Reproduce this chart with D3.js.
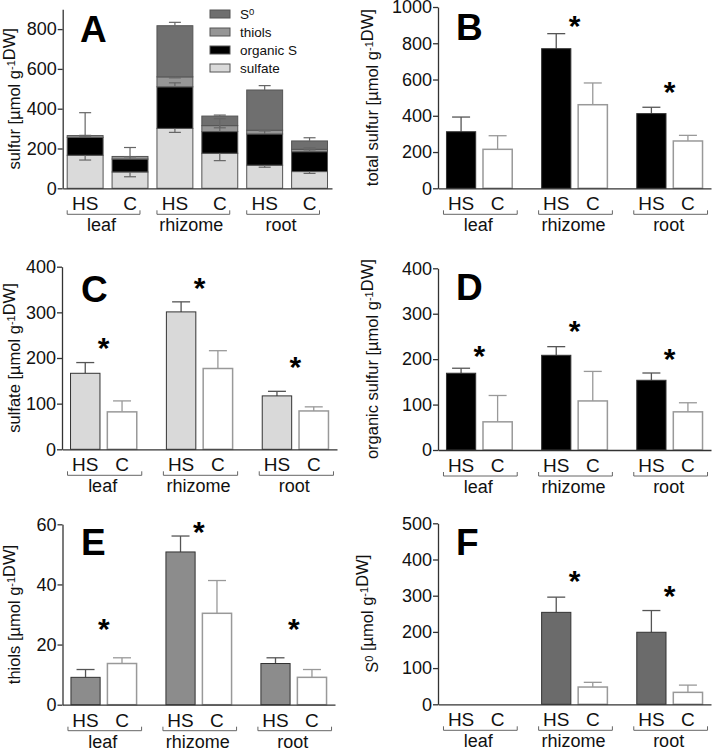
<!DOCTYPE html>
<html>
<head>
<meta charset="utf-8">
<script src="https://cdn.jsdelivr.net/npm/d3@7"></script>
<style>
  body { margin: 0; background: #fff; }
  svg { display: block; font-family: "Liberation Sans", Arial, sans-serif; }
  .axis path, .axis line { stroke: #333; stroke-width: 1.3; }
  .axis text { font-size: 18px; fill: #111; font-family: "Liberation Sans", Arial, sans-serif; }
</style>
</head>
<body>
<svg id="fig" width="714" height="750"></svg>
<script>
// categories
const groups = ["leaf", "rhizome", "root"];
const treatments = ["HS", "C"];
const stackBars = ["leaf HS", "leaf C", "rhizome HS", "rhizome C", "root HS", "root C"];

// panel A: stacked sulfur pools (µmol/g DW)
const sulfateA = [166, 82, 301, 176, 116, 84];
const organicA = [90, 65, 209, 109, 157, 100];
const thiolsA = [9, 13, 50, 30, 19, 12];
const s0A = [0, 0, 257, 48, 202, 42];
const sulfateErrA = [24, 24, 20, 37, 10, 9];
const organicErrA = [10, 58, 20, 65, 16, 20];
const thiolsErrA = [3, 2, 5, 11, 2, 3];
const s0ErrA = [115, 0, 17, 5, 22, 16];

// panel B: total sulfur
const totalHS = [312, 770, 412], totalHSErr = [81, 83, 35];
const totalC = [215, 461, 261], totalCErr = [75, 120, 31];
const totalStar = [null, 938, 570];

// panel C: sulfate
const sulfHS = [166.5, 301, 117], sulfHSErr = [23.5, 22, 10];
const sulfC = [82, 177, 84], sulfCErr = [24, 39, 9];
const sulfStar = [239, 369, 197];

// panel D: organic sulfur
const orgHS = [169, 208.5, 153.5], orgHSErr = [11, 19, 16];
const orgC = [62, 108, 84], orgCErr = [58, 65, 20];
const orgStar = [223, 279, 216.5];

// panel E: thiols
const thiolHS = [9.1, 50.8, 13.7], thiolHSErr = [2.6, 5.3, 1.9];
const thiolC = [13.7, 30.4, 9.1], thiolCErr = [1.9, 10.9, 2.6];
const thiolStar = [27.7, 59.9, 27.7];

// panel F: elemental sulfur
const s0HS = [0, 254, 199], s0HSErr = [0, 42, 60];
const s0C = [0, 47.7, 33], s0CErr = [0, 13, 20];
const s0Star = [null, 362, 319.5];

const svg = d3.select("#fig");

function yTitle(g, x, y, parts) {
  const t = g.append("text")
    .attr("transform", "translate(" + x + "," + y + ") rotate(-90)")
    .attr("text-anchor", "middle")
    .style("font-size", "16.5px")
    .attr("fill", "#111");
  parts.forEach(function(p) {
    if (p.sup) {
      t.append("tspan").attr("dy", "-0.45em").style("font-size", "11px").text(p.t);
      t.append("tspan").attr("dy", "0.45em").text("");
    } else {
      t.append("tspan").text(p.t);
    }
  });
}

function unitParts(prefix, prefixSup) {
  const parts = [{t: prefix}];
  if (prefixSup) parts.push({t: prefixSup, sup: true});
  parts.push({t: "\u00a0[µmol\u00a0g"});
  parts.push({t: "-1", sup: true});
  parts.push({t: "DW]"});
  return parts;
}

function letter(x, y, s) {
  svg.append("text").attr("x", x).attr("y", y)
    .style("font-size", "37px").style("font-weight", "bold").text(s);
}

function xLabels(g, baseY, barCenters, brackets) {
  // HS / C labels
  g.selectAll(".tl").data(barCenters).join("text")
    .attr("x", d => d.x).attr("y", baseY + 22)
    .attr("text-anchor", "middle").style("font-size", "19px").attr("fill", "#111")
    .text(d => d.t);
  // brackets
  g.selectAll(".br").data(brackets).join("path")
    .attr("d", d => "M" + d.a + "," + (baseY + 22) + "V" + (baseY + 26) + "H" + d.b + "V" + (baseY + 22))
    .attr("fill", "none").attr("stroke", "#666").attr("stroke-width", 1);
  g.selectAll(".gl").data(brackets).join("text")
    .attr("x", d => (d.a + d.b) / 2 - 2).attr("y", baseY + 43)
    .attr("text-anchor", "middle").style("font-size", "18px").attr("fill", "#111")
    .text(d => d.g);
}

// ---------- simple grouped panels (B-F) ----------
function groupedPanel(cfg) {
  const g = svg.append("g");
  const y = d3.scaleLinear().domain([0, cfg.max]).range([cfg.y0, cfg.y1]);
  const xg = d3.scaleBand().domain(groups).range([cfg.x0, cfg.x1])
    .paddingInner(0.309).paddingOuter(0.089);
  const xt = d3.scaleBand().domain(treatments).range([0, xg.bandwidth()]).paddingInner(0.2);

  const rows = [];
  groups.forEach(function(gr, i) {
    rows.push({g: gr, t: "HS", v: cfg.hs[i], e: cfg.hsErr[i]});
    rows.push({g: gr, t: "C", v: cfg.c[i], e: cfg.cErr[i]});
  });

  // error bars (drawn first so the bar outline sits on top)
  const bx = d => xg(d.g) + xt(d.t);
  const cx = d => bx(d) + xt.bandwidth() / 2;
  const eb = g.selectAll(".err").data(rows.filter(d => d.v > 0)).join("g")
    .attr("stroke", d => d.t === "HS" ? "#555" : "#999").attr("stroke-width", 1.3);
  eb.append("line").attr("x1", cx).attr("x2", cx)
    .attr("y1", d => y(d.v)).attr("y2", d => y(d.v + d.e));
  eb.append("line").attr("x1", d => cx(d) - 9).attr("x2", d => cx(d) + 9)
    .attr("y1", d => y(d.v + d.e)).attr("y2", d => y(d.v + d.e));

  g.selectAll(".bar").data(rows.filter(d => d.v > 0)).join("rect")
    .attr("x", bx).attr("width", xt.bandwidth())
    .attr("y", d => y(d.v)).attr("height", d => y(0) - y(d.v))
    .attr("fill", d => d.t === "HS" ? cfg.fill : "#fff")
    .attr("stroke", d => d.t === "HS" ? "#333" : "#999")
    .attr("stroke-width", d => d.t === "HS" ? 1 : 1.5);

  // significance stars
  g.selectAll(".star").data(groups.map((gr, i) => ({g: gr, v: cfg.star[i]})).filter(d => d.v != null))
    .join("text")
    .attr("x", d => xg(d.g) + xg.bandwidth() / 2)
    .attr("y", d => y(d.v)).attr("dy", "0.58em")
    .attr("text-anchor", "middle").style("font-size", "30px").style("font-weight", "bold")
    .text("*");

  // axes
  g.append("g").attr("class", "axis")
    .attr("transform", "translate(" + cfg.x0 + ",0)")
    .call(d3.axisLeft(y).tickValues(cfg.ticks).tickFormat(d3.format("d"))
      .tickSize(5).tickPadding(1).tickSizeOuter(0));
  g.append("g").attr("class", "axis")
    .attr("transform", "translate(0," + cfg.y0 + ")")
    .call(d3.axisBottom(d3.scaleLinear().range([cfg.x0, cfg.x1])).ticks(0).tickSizeOuter(0));

  const centers = rows.map(d => ({x: cx(d), t: d.t}));
  const brackets = groups.map(gr => ({g: gr, a: xg(gr) - 3, b: xg(gr) + xg.bandwidth() + 5}));
  xLabels(g, cfg.y0, centers, brackets);

  yTitle(g, cfg.tx, (cfg.y0 + cfg.y1) / 2, cfg.title);
  letter(cfg.lx, cfg.ly, cfg.letter);
}

// ---------- panel A (stacked) ----------
(function panelA() {
  const g = svg.append("g");
  const x0 = 62.7, x1 = 332, y0 = 188.3, y1 = 9.2;
  const y = d3.scaleLinear().domain([0, 900]).range([y0, y1]);
  const x = d3.scaleBand().domain(stackBars).range([x0, x1]).paddingInner(0.2).paddingOuter(0.1);
  const keys = ["sulfate", "organic", "thiols", "s0"];
  const colors = {sulfate: "#dadada", organic: "#000", thiols: "#969696", s0: "#6f6f6f"};
  const errs = {sulfate: sulfateErrA, organic: organicErrA, thiols: thiolsErrA, s0: s0ErrA};
  const dir = {sulfate: -1, organic: 1, thiols: -1, s0: 1};

  const rows = stackBars.map((b, i) => ({bar: b, sulfate: sulfateA[i], organic: organicA[i], thiols: thiolsA[i], s0: s0A[i]}));
  const series = d3.stack().keys(keys)(rows);

  series.forEach(function(s) {
    g.selectAll(".seg-" + s.key).data(s.filter(d => d[1] > d[0])).join("rect")
      .attr("x", d => x(d.data.bar)).attr("width", x.bandwidth())
      .attr("y", d => y(d[1])).attr("height", d => y(d[0]) - y(d[1]))
      .attr("fill", colors[s.key]).attr("stroke", "#555").attr("stroke-width", 1);
  });

  series.forEach(function(s) {
    const eb = g.selectAll(".e-" + s.key)
      .data(s.map((d, i) => ({bar: d.data.bar, top: d[1], e: errs[s.key][i]})).filter(d => d.e > 0))
      .join("g").attr("stroke", "#666").attr("stroke-width", 1.2);
    const cx = d => x(d.bar) + x.bandwidth() / 2;
    eb.append("line").attr("x1", cx).attr("x2", cx)
      .attr("y1", d => y(d.top)).attr("y2", d => y(d.top + dir[s.key] * d.e));
    eb.append("line").attr("x1", d => cx(d) - 6).attr("x2", d => cx(d) + 6)
      .attr("y1", d => y(d.top + dir[s.key] * d.e)).attr("y2", d => y(d.top + dir[s.key] * d.e));
  });

  g.append("g").attr("class", "axis")
    .attr("transform", "translate(" + x0 + ",0)")
    .call(d3.axisLeft(y).tickValues([0, 200, 400, 600, 800]).tickSize(5).tickPadding(1).tickSizeOuter(0));
  g.append("g").attr("class", "axis")
    .attr("transform", "translate(0," + y0 + ")")
    .call(d3.axisBottom(d3.scaleLinear().range([x0, x1])).ticks(0).tickSizeOuter(0));

  const centers = stackBars.map(b => ({x: x(b) + x.bandwidth() / 2, t: b.split(" ")[1]}));
  const brackets = groups.map(gr => ({g: gr, a: x(gr + " HS"), b: x(gr + " C") + x.bandwidth() - 8}));
  xLabels(g, y0, centers, brackets);

  // legend
  const legend = [
    {k: "s0", label: "S", sup: "0"},
    {k: "thiols", label: "thiols"},
    {k: "organic", label: "organic S"},
    {k: "sulfate", label: "sulfate"}
  ];
  const lg = g.selectAll(".lg").data(legend).join("g")
    .attr("transform", (d, i) => "translate(210," + (10 + i * 18) + ")");
  lg.append("rect").attr("width", 20).attr("height", 8)
    .attr("fill", d => colors[d.k]).attr("stroke", "#555").attr("stroke-width", 1);
  const lt = lg.append("text").attr("x", 30).attr("y", 9).style("font-size", "13.5px").attr("fill", "#111");
  lt.append("tspan").text(d => d.label);
  lt.filter(d => d.sup).append("tspan").attr("dy", "-0.45em").style("font-size", "9.5px").text(d => d.sup);

  yTitle(g, 20, (y0 + y1) / 2, unitParts("sulfur"));
  letter(80, 42, "A");
})();

groupedPanel({x0: 438, x1: 711, y0: 188.3, y1: 7, max: 1000, ticks: [0, 200, 400, 600, 800, 1000],
  hs: totalHS, hsErr: totalHSErr, c: totalC, cErr: totalCErr, star: totalStar, fill: "#000",
  tx: 378, title: unitParts("total sulfur"), letter: "B", lx: 456, ly: 40});

groupedPanel({x0: 62, x1: 337, y0: 449.3, y1: 266.7, max: 400, ticks: [0, 100, 200, 300, 400],
  hs: sulfHS, hsErr: sulfHSErr, c: sulfC, cErr: sulfCErr, star: sulfStar, fill: "#d9d9d9",
  tx: 20, title: unitParts("sulfate"), letter: "C", lx: 81, ly: 302});

groupedPanel({x0: 438, x1: 711, y0: 450, y1: 268.3, max: 400, ticks: [0, 100, 200, 300, 400],
  hs: orgHS, hsErr: orgHSErr, c: orgC, cErr: orgCErr, star: orgStar, fill: "#000",
  tx: 378, title: unitParts("organic sulfur"), letter: "D", lx: 456, ly: 300});

groupedPanel({x0: 62.5, x1: 335, y0: 704.7, y1: 524.3, max: 60, ticks: [0, 20, 40, 60],
  hs: thiolHS, hsErr: thiolHSErr, c: thiolC, cErr: thiolCErr, star: thiolStar, fill: "#8c8c8c",
  tx: 20, title: unitParts("thiols"), letter: "E", lx: 81, ly: 555});

groupedPanel({x0: 438, x1: 711, y0: 704.3, y1: 523.3, max: 500, ticks: [0, 100, 200, 300, 400, 500],
  hs: s0HS, hsErr: s0HSErr, c: s0C, cErr: s0CErr, star: s0Star, fill: "#6b6b6b",
  tx: 378, title: unitParts("S", "0"), letter: "F", lx: 456, ly: 555});
</script>
</body>
</html>
